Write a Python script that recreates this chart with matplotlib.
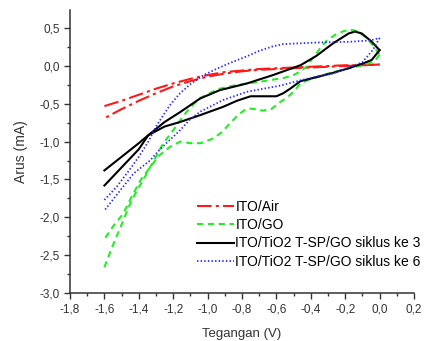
import numpy as np
import matplotlib
matplotlib.use("Agg")
import matplotlib.pyplot as plt
from matplotlib.ticker import MultipleLocator, FuncFormatter

plt.rcParams['font.family'] = ['Liberation Sans', 'DejaVu Sans']

# each curve is a loop: branch "a" (from -1.6 round the right end) and branch "b" (back to -1.6)
# ITO/Air (red dash-dot)
air_a_x = [-1.6, -1.5, -1.4, -1.3, -1.2, -1.1, -1.0, -0.9, -0.8, -0.7, -0.6, -0.5, -0.4, -0.3, -0.2, -0.1, 0.0]
air_a_y = [-0.53, -0.46, -0.38, -0.30, -0.23, -0.17, -0.12, -0.08, -0.06, -0.04, -0.03, -0.02, -0.01, 0.0, 0.01, 0.01, 0.02]
air_b_x = [0.0, -0.1, -0.2, -0.3, -0.4, -0.5, -0.6, -0.7, -0.8, -0.9, -1.0, -1.1, -1.2, -1.3, -1.4, -1.5, -1.6]
air_b_y = [0.02, 0.01, 0.0, -0.01, -0.02, -0.03, -0.04, -0.05, -0.07, -0.10, -0.14, -0.20, -0.27, -0.36, -0.46, -0.57, -0.69]

# ITO/GO (green dashed)
go_a_x = [-1.6, -1.56, -1.53, -1.49, -1.45, -1.41, -1.375, -1.34, -1.30, -1.26, -1.2, -1.16, -1.12, -1.08, -1.04,
          -0.98, -0.93, -0.85, -0.77, -0.70, -0.62, -0.56, -0.50, -0.46, -0.42, -0.39, -0.35, -0.31, -0.26, -0.21,
          -0.17, -0.13, -0.08, -0.03, 0.0]
go_a_y = [-2.66, -2.42, -2.26, -2.04, -1.82, -1.64, -1.51, -1.36, -1.20, -1.03, -0.85, -0.72, -0.60, -0.50, -0.42,
          -0.35, -0.30, -0.26, -0.23, -0.21, -0.18, -0.16, -0.12, -0.07, 0.0, 0.10, 0.22, 0.33, 0.41, 0.46,
          0.48, 0.46, 0.38, 0.25, 0.15]
go_b_x = [0.0, -0.03, -0.1, -0.2, -0.3, -0.4, -0.46, -0.50, -0.54, -0.58, -0.63, -0.68, -0.72, -0.77, -0.82, -0.87,
          -0.92, -0.97, -1.04, -1.10, -1.16, -1.22, -1.28, -1.335, -1.39, -1.44, -1.49, -1.55, -1.6]
go_b_y = [0.15, 0.06, 0.01, -0.04, -0.10, -0.17, -0.23, -0.34, -0.42, -0.48, -0.57, -0.59, -0.57, -0.56, -0.64, -0.76,
          -0.88, -0.96, -1.02, -1.02, -1.00, -1.07, -1.18, -1.34, -1.51, -1.72, -1.95, -2.12, -2.29]

# ITO/TiO2 T-SP/GO siklus ke 3 (black solid)
c3_a_x = [-1.6, -1.5, -1.4, -1.345, -1.25, -1.16, -1.044, -0.93, -0.77, -0.62, -0.46, -0.37, -0.27, -0.18,
          -0.143, -0.104, -0.05, 0.0]
c3_a_y = [-1.58, -1.34, -1.10, -0.915, -0.74, -0.61, -0.43, -0.32, -0.23, -0.12, 0.01, 0.13, 0.30, 0.43,
          0.455, 0.43, 0.33, 0.21]
c3_b_x = [0.0, -0.046, -0.095, -0.18, -0.27, -0.37, -0.46, -0.52, -0.56, -0.60, -0.67, -0.75, -0.83, -0.91,
          -1.044, -1.16, -1.25, -1.345, -1.4, -1.5, -1.6]
c3_b_y = [0.21, 0.08, 0.035, -0.03, -0.09, -0.15, -0.20, -0.30, -0.36, -0.40, -0.40, -0.40, -0.46, -0.54,
          -0.65, -0.74, -0.80, -0.915, -1.02, -1.20, -1.38]

# ITO/TiO2 T-SP/GO siklus ke 6 (blue dotted)
c6_a_x = [-1.6, -1.53, -1.45, -1.40, -1.345, -1.30, -1.22, -1.16, -1.10, -1.03, -0.95, -0.87, -0.78, -0.70,
          -0.62, -0.56, -0.46, -0.37, -0.17, -0.05, 0.0]
c6_a_y = [-1.77, -1.60, -1.36, -1.20, -1.00, -0.80, -0.52, -0.36, -0.24, -0.13, -0.04, 0.04, 0.12, 0.20,
          0.26, 0.29, 0.30, 0.31, 0.32, 0.34, 0.37]
c6_b_x = [0.0, -0.04, -0.10, -0.17, -0.27, -0.37, -0.46, -0.58, -0.77, -0.91, -1.04, -1.10, -1.16, -1.24, -1.28,
          -1.335, -1.43, -1.51, -1.6]
c6_b_y = [0.37, 0.21, 0.05, -0.01, -0.10, -0.14, -0.19, -0.26, -0.34, -0.45, -0.60, -0.70, -0.85, -1.02, -1.11,
          -1.25, -1.42, -1.65, -1.91]

labels = ['ITO/Air', 'ITO/GO', 'ITO/TiO2 T-SP/GO siklus ke 3', 'ITO/TiO2 T-SP/GO siklus ke 6']

fig = plt.figure(figsize=(4.45, 3.41), dpi=100)
ax = fig.add_axes([70 / 445, 1 - 293 / 341, 344 / 445, 283 / 341])

styles = [
    dict(color='#ff1a1a', lw=1.5, dashes=[7, 2, 1.5, 2]),
    dict(color='#22ee22', lw=1.5, dashes=[3, 2.2]),
    dict(color='black', lw=1.5),
    dict(color='#2a2aff', lw=1.3, linestyle=(0, (0.8, 1.2))),
]
curves = [
    (air_a_x, air_a_y, air_b_x, air_b_y),
    (go_a_x, go_a_y, go_b_x, go_b_y),
    (c3_a_x, c3_a_y, c3_b_x, c3_b_y),
    (c6_a_x, c6_a_y, c6_b_x, c6_b_y),
]
for (ax_, ay_, bx_, by_), st, lab in zip(curves, styles, labels):
    ax.plot(ax_, ay_, label=lab, **st)
    ax.plot(bx_, by_, label='_nolegend_', **st)

ax.set_xlim(-1.8, 0.2)
ax.set_ylim(-3.0, 0.74)
ax.xaxis.set_major_locator(MultipleLocator(0.2))
ax.xaxis.set_minor_locator(MultipleLocator(0.1))
ax.yaxis.set_major_locator(MultipleLocator(0.5))
ax.yaxis.set_minor_locator(MultipleLocator(0.25))
comma = FuncFormatter(lambda v, p: f"{v:.1f}".replace('.', ',').replace('-0,0', '0,0'))
ax.xaxis.set_major_formatter(comma)
ax.yaxis.set_major_formatter(comma)

for s in ['top', 'right']:
    ax.spines[s].set_visible(False)
for s in ['left', 'bottom']:
    ax.spines[s].set_color('#333333')
    ax.spines[s].set_linewidth(1.1)
ax.tick_params(which='major', direction='out', length=4.5, width=1, color='#333333',
               labelsize=8.5, labelcolor='#333333', pad=3)
ax.tick_params(which='minor', direction='out', length=2.5, width=1, color='#333333')

ax.set_xlabel('Tegangan (V)', fontsize=9.5, color='#333333', labelpad=9)
ax.set_ylabel('Arus (mA)', fontsize=10, color='#333333', labelpad=8)

ax.legend(loc='upper left', bbox_to_anchor=(0.368, 0.33), frameon=False, fontsize=10,
          handlelength=2.7, handletextpad=0.1, labelspacing=0.32, borderpad=0, borderaxespad=0)

fig.savefig('out.png', dpi=100)
